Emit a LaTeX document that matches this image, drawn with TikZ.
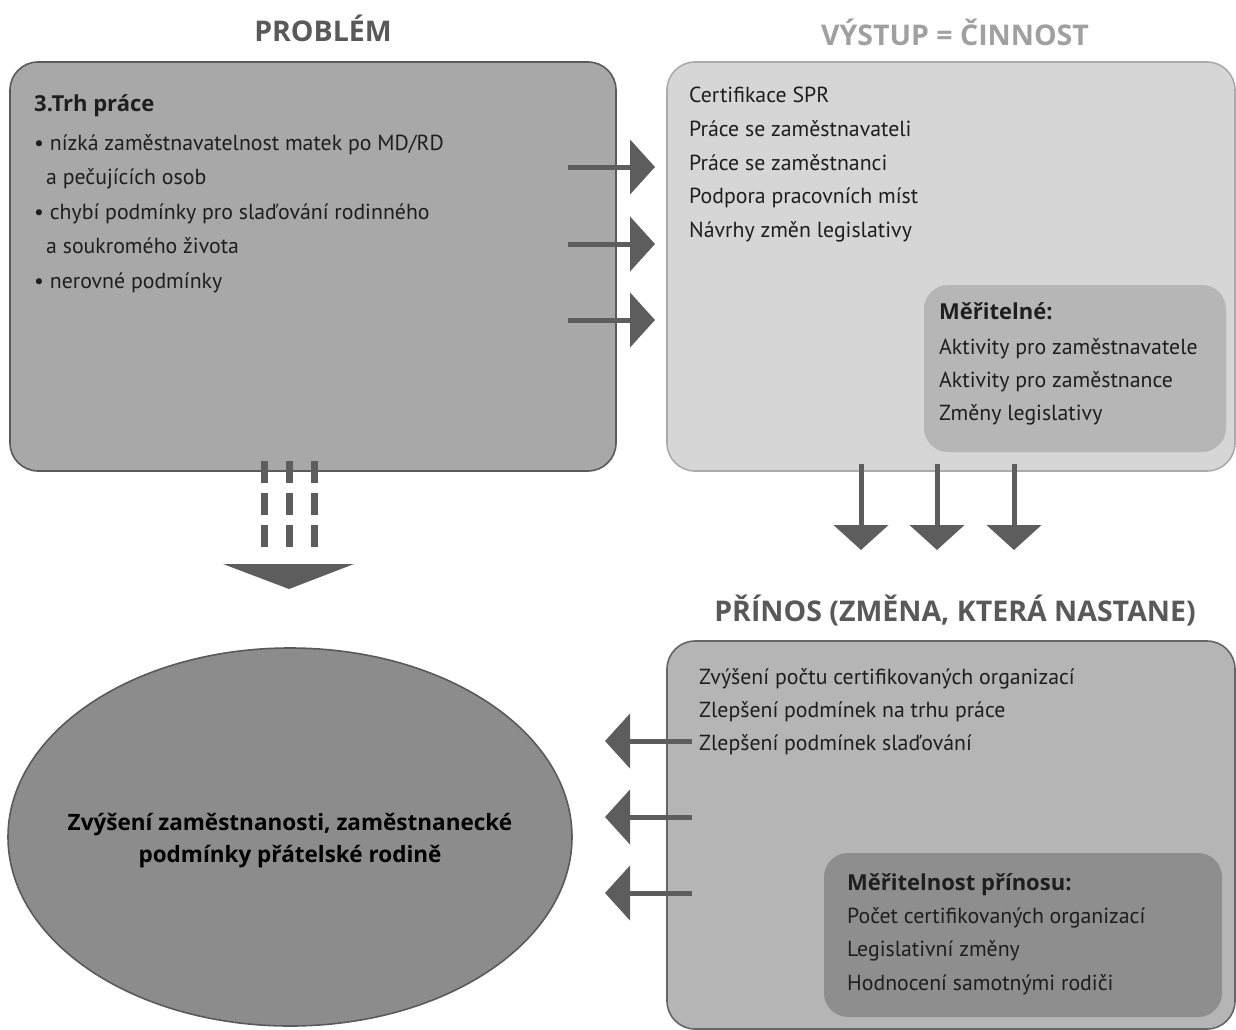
\documentclass[tikz,border=0pt]{standalone}
\usepackage{fontspec}
\setmainfont{PT Sans}[BoldFont={Open Sans Bold}]
\usetikzlibrary{arrows.meta,shapes.geometric}
\definecolor{arr}{HTML}{5D5D5D}
\definecolor{titdark}{HTML}{595959}
\definecolor{titlight}{HTML}{A0A0A0}
\definecolor{txt}{HTML}{1E1E1E}
\definecolor{boxA}{HTML}{A8A8A8}
\definecolor{boxAline}{HTML}{5A5A5A}
\definecolor{boxB}{HTML}{D6D6D6}
\definecolor{boxBline}{HTML}{ABABAB}
\definecolor{inB}{HTML}{B6B6B6}
\definecolor{boxC}{HTML}{B5B5B5}
\definecolor{boxCline}{HTML}{666666}
\definecolor{inC}{HTML}{8E8E8E}
\definecolor{ell}{HTML}{8C8C8C}
\tikzset{
  bigbox/.style={line width=1.6pt, rounded corners=28pt},
  inbox/.style={rounded corners=24pt},
  ttl/.style={font=\fontsize{28.5}{30}\selectfont\bfseries, inner sep=0pt},
  body/.style={font=\fontsize{21.8}{24}\selectfont, text=txt, anchor=base west, inner sep=0pt},
  bodyb/.style={body, font=\fontsize{22}{24}\selectfont\bfseries},
  blockarrow/.style={draw=arr, line width=5pt, -{Triangle[length=25pt,width=54pt]}},
  dashline/.style={draw=arr, line width=7pt, dash pattern=on 22pt off 10pt},
}
\begin{document}
\begin{tikzpicture}[x=1pt,y=-1pt]
\useasboundingbox (0,0) rectangle (1236,1030);
% titles
\node[ttl, text=titdark] (tprob) at (323,28) {PROBLÉM};
\node[ttl, text=titlight] (tvys) at (955,32) {VÝSTUP = ČINNOST};
\node[ttl, text=titdark] (tpri) at (955,610) {PŘÍNOS (ZMĚNA, KTERÁ NASTANE)};
\node[ttl, text=titdark] (tviz) at (290,660) {VIZE};
% box 1
\path[bigbox, draw=boxAline, fill=boxA] (10,62) rectangle (616,471);
\node[bodyb] (p0) at (34,112) {3.Trh práce};
\node[body] (p1) at (34,150) {• nízká zaměstnavatelnost matek po MD/RD};
\node[body] (p2) at (46,184) {a pečujících osob};
\node[body] (p3) at (34,219) {• chybí podmínky pro slaďování rodinného};
\node[body] (p4) at (46,253) {a soukromého života};
\node[body] (p5) at (34,288) {• nerovné podmínky};
% box 2
\path[bigbox, draw=boxBline, fill=boxB] (667,62) rectangle (1235,471);
\node[body] (v1) at (689,103) {Certifikace SPR};
\node[body] (v2) at (689,136) {Práce se zaměstnavateli};
\node[body] (v3) at (689,170) {Práce se zaměstnanci};
\node[body] (v4) at (689,203) {Podpora pracovních míst};
\node[body] (v5) at (689,237) {Návrhy změn legislativy};
\path[inbox, fill=inB] (924,285) rectangle (1226,452);
\node[bodyb] (m0) at (939,319) {Měřitelné:};
\node[body] (m1) at (939,354) {Aktivity pro zaměstnavatele};
\node[body] (m2) at (939,387) {Aktivity pro zaměstnance};
\node[body] (m3) at (939,420) {Změny legislativy};
% box 3
\path[bigbox, draw=boxCline, fill=boxC] (667,641) rectangle (1235,1029);
\node[body] (c1) at (699,684) {Zvýšení počtu certifikovaných organizací};
\node[body] (c2) at (699,717) {Zlepšení podmínek na trhu práce};
\node[body] (c3) at (699,750) {Zlepšení podmínek slaďování};
\path[inbox, fill=inC] (824,853) rectangle (1222,1017);
\node[bodyb] (n0) at (847,890) {Měřitelnost přínosu:};
\node[body] (n1) at (847,923) {Počet certifikovaných organizací};
\node[body] (n2) at (847,956) {Legislativní změny};
\node[body] (n3) at (847,990) {Hodnocení samotnými rodiči};
% ellipse
\node[ellipse, draw=boxAline, line width=1.6pt, fill=ell, minimum width=564pt, minimum height=378pt, inner sep=0pt] (viz) at (290,837) {};
\node[font=\fontsize{22.5}{32}\selectfont\bfseries, text=black, align=center, inner sep=0pt] (viztxt) at (290,841) {Zvýšení zaměstnanosti, zaměstnanecké\\podmínky přátelské rodině};
% right arrows
\foreach \y/\n in {167/1,244/2,320/3}{
  \coordinate (rs\n) at (568,\y);
  \coordinate (re\n) at (655,\y);
  \draw[blockarrow] (rs\n) -- (re\n);
}
% down arrows
\foreach \x/\n in {861/1,937/2,1014/3}{
  \coordinate (ds\n) at (\x,464);
  \coordinate (de\n) at (\x,550);
  \draw[blockarrow] (ds\n) -- (de\n);
}
% left arrows
\foreach \y/\n in {741/1,817/2,893/3}{
  \coordinate (ls\n) at (692,\y);
  \coordinate (le\n) at (605,\y);
  \draw[blockarrow] (ls\n) -- (le\n);
}
% dashed arrow
\foreach \x/\n in {264/1,289/2,314/3}{
  \coordinate (qs\n) at (\x,461);
  \coordinate (qe\n) at (\x,547);
  \draw[dashline] (qs\n) -- (qe\n);
}
\coordinate (tri1) at (223,564);
\coordinate (tri2) at (354,564);
\coordinate (tri3) at (289,589);
\fill[arr] (tri1) -- (tri2) -- (tri3) -- cycle;
\end{tikzpicture}
\end{document}
